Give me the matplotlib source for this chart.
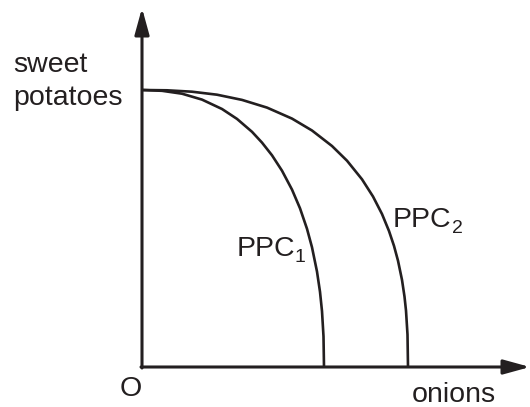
import matplotlib
matplotlib.use("Agg")
import matplotlib.pyplot as plt

# Curve points (pixel units relative to the origin)
ppc1_x = [0, 20, 40, 60, 80, 95, 110, 120, 130, 140, 150, 158, 165, 170, 175, 178, 180, 181.5, 182]
ppc1_y = [277, 276.2, 273.3, 267.4, 258.0, 248.1, 235.2, 224.4, 211.7, 196.3, 177.4, 158.7, 138.2, 119.7, 95.4, 75.2, 55.8, 30.6, 0]
ppc2_x = [0, 25, 50, 75, 100, 125, 150, 170, 190, 205, 220, 231, 240, 247, 252, 256, 260, 262.5, 264, 265.5, 266]
ppc2_y = [277, 276.7, 275.3, 272.3, 267.1, 259.4, 248.4, 236.5, 221.0, 206.3, 187.7, 170.5, 153.0, 136.0, 121.1, 106.3, 87.1, 70.4, 56.4, 32.4, 0]

x_axis_len = 388
y_axis_len = 359

ink = "#231f20"
plt.rcParams['font.family'] = ['Liberation Sans', 'DejaVu Sans']

fig = plt.figure(figsize=(5.30, 4.07), dpi=100)
ax = fig.add_axes([0, 0, 1, 1])
ax.set_xlim(-142, 388)
ax.set_ylim(-40, 367)
ax.axis('off')

arrow = dict(arrowstyle='-|>,head_length=0.8,head_width=0.22', mutation_scale=20,
             lw=2.2, color=ink, shrinkA=0, shrinkB=0)
ax.annotate('', xy=(0, y_axis_len), xytext=(0, -1), arrowprops=arrow)
ax.annotate('', xy=(x_axis_len, 0), xytext=(-1, 0), arrowprops=arrow)

ax.plot(ppc1_x, ppc1_y, color=ink, lw=1.9, solid_capstyle='butt')
ax.plot(ppc2_x, ppc2_y, color=ink, lw=1.9, solid_capstyle='butt')

fs = 20.5
ax.text(-129, 295, "sweet", fontsize=fs, color=ink, va='baseline', ha='left')
ax.text(-129, 262, "potatoes", fontsize=fs, color=ink, va='baseline', ha='left')
ax.text(-22, -29, "O", fontsize=fs, color=ink, va='baseline', ha='left')
ax.text(270, -35, "onions", fontsize=fs, color=ink, va='baseline', ha='left')

ax.text(95, 111.5, "PPC", fontsize=fs, color=ink, va='baseline', ha='left')
ax.text(153, 105, "1", fontsize=14, color=ink, va='baseline', ha='left')
ax.text(251, 140, "PPC", fontsize=fs, color=ink, va='baseline', ha='left')
ax.text(310, 134, "2", fontsize=14, color=ink, va='baseline', ha='left')

fig.savefig("out.png", dpi=100)
